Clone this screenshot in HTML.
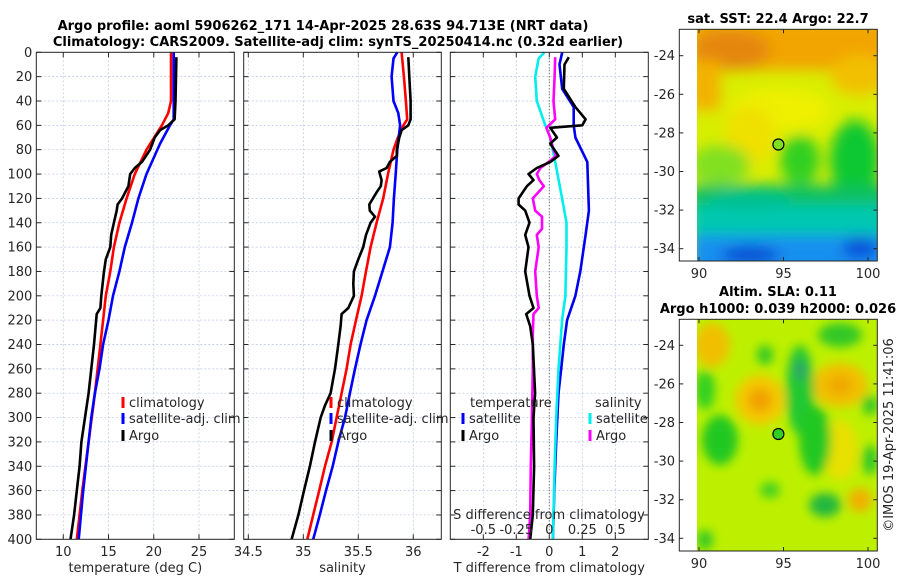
<!DOCTYPE html>
<html><head><meta charset="utf-8">
<style>
html,body{margin:0;padding:0;background:#fff;}
svg{display:block;font-family:"DejaVu Sans","Liberation Sans",sans-serif;}
.t{font-size:13px;fill:#262626;}
.b{font-weight:bold;font-size:13px;fill:#000;}
</style></head>
<body>
<svg id="c" width="900" height="580" viewBox="0 0 900 580">
<defs>
 <filter id="bl" x="-20%" y="-20%" width="140%" height="140%"><feGaussianBlur stdDeviation="7"/></filter>
 <filter id="bl2" x="-20%" y="-20%" width="140%" height="140%"><feGaussianBlur stdDeviation="5"/></filter>
 <clipPath id="m1"><rect x="697" y="29.3" width="180" height="231.7"/></clipPath>
 <clipPath id="m2"><rect x="697" y="319.3" width="180" height="231.7"/></clipPath>
</defs>
<text class="b" x="323" y="30" text-anchor="middle">Argo profile: aoml 5906262_171 14-Apr-2025 28.63S 94.713E (NRT data)</text>
<text class="b" x="338" y="46" text-anchor="middle">Climatology: CARS2009. Satellite-adj clim: synTS_20250414.nc (0.32d earlier)</text>

<!-- map 1 -->
<g>
 <g clip-path="url(#m1)">
  <rect x="697" y="29" width="180" height="232" fill="#d8ee00"/>
  <g filter="url(#bl)">
   <rect x="690" y="20" width="200" height="50" fill="#f2a400"/>
   <ellipse cx="730" cy="50" rx="40" ry="20" fill="#e5860c"/>
   <rect x="690" y="60" width="30" height="50" fill="#f3b000"/>
   <ellipse cx="860" cy="75" rx="30" ry="20" fill="#f2c000"/>
   <ellipse cx="780" cy="110" rx="50" ry="22" fill="#eef000"/>
   <ellipse cx="750" cy="135" rx="25" ry="30" fill="#f0e000"/>
   <ellipse cx="720" cy="165" rx="30" ry="20" fill="#80e020"/>
   <ellipse cx="855" cy="160" rx="25" ry="40" fill="#10c830"/>
   <ellipse cx="800" cy="160" rx="20" ry="25" fill="#30d020"/>
   <rect x="690" y="185" width="200" height="40" fill="#10c060"/>
   <rect x="690" y="205" width="200" height="35" fill="#00c8b0"/>
   <ellipse cx="750" cy="200" rx="40" ry="10" fill="#00c090"/>
   <rect x="690" y="235" width="200" height="40" fill="#1890f0"/>
   <ellipse cx="750" cy="255" rx="30" ry="8" fill="#0a40d0"/>
   <ellipse cx="860" cy="248" rx="18" ry="10" fill="#0848d8"/>
  </g>
 </g>
 <rect x="679.3" y="29.3" width="198" height="231.7" fill="none" stroke="#262626" stroke-width="1"/>
 <circle cx="778.4" cy="144.5" r="5.5" fill="#7ee020" stroke="#000" stroke-width="1.2"/>
 <text class="b" x="778" y="23" text-anchor="middle">sat. SST: 22.4 Argo: 22.7</text>
</g>
<!-- map 2 -->
<g>
 <g clip-path="url(#m2)">
  <rect x="697" y="319" width="180" height="232" fill="#bdf000"/>
  <g filter="url(#bl2)">
   <ellipse cx="712" cy="345" rx="18" ry="22" fill="#f0c000"/>
   <ellipse cx="760" cy="400" rx="25" ry="25" fill="#f4c800"/>
   <ellipse cx="760" cy="400" rx="12" ry="12" fill="#f0a000"/>
   <ellipse cx="840" cy="385" rx="28" ry="22" fill="#f2c000"/>
   <ellipse cx="840" cy="385" rx="12" ry="10" fill="#f0a800"/>
   <ellipse cx="840" cy="450" rx="18" ry="30" fill="#e8e000"/>
   <ellipse cx="860" cy="500" rx="12" ry="12" fill="#f0b000"/>
   <ellipse cx="720" cy="440" rx="18" ry="25" fill="#20c820"/>
   <ellipse cx="705" cy="390" rx="10" ry="20" fill="#30d020"/>
   <ellipse cx="800" cy="390" rx="14" ry="45" fill="#20c830"/>
   <ellipse cx="800" cy="370" rx="6" ry="10" fill="#30a070"/>
   <ellipse cx="815" cy="440" rx="16" ry="35" fill="#20c820"/>
   <ellipse cx="840" cy="335" rx="22" ry="12" fill="#30c828"/>
   <ellipse cx="765" cy="355" rx="8" ry="10" fill="#30c828"/>
   <ellipse cx="825" cy="505" rx="16" ry="12" fill="#20b840"/>
   <ellipse cx="770" cy="490" rx="10" ry="8" fill="#40d020"/>
   <ellipse cx="870" cy="460" rx="8" ry="15" fill="#30c828"/>
   <ellipse cx="870" cy="405" rx="8" ry="10" fill="#30c828"/>
   <ellipse cx="705" cy="540" rx="8" ry="10" fill="#30c828"/>
  </g>
 </g>
 <rect x="679.3" y="319.3" width="198" height="231.7" fill="none" stroke="#262626" stroke-width="1"/>
 <circle cx="778.4" cy="434" r="5.5" fill="#30d020" stroke="#000" stroke-width="1.2"/>
 <text class="b" x="778" y="296" text-anchor="middle">Altim. SLA: 0.11</text>
 <text class="b" x="778" y="313" text-anchor="middle">Argo h1000: 0.039 h2000: 0.026</text>
 <text class="t" transform="translate(893,435) rotate(-90)" text-anchor="middle">©IMOS 19-Apr-2025 11:41:06</text>
</g>
</svg>
<script>
// ---- data ----
const depthTicks=[0,20,40,60,80,100,120,140,160,180,200,220,240,260,280,300,320,340,360,380,400];
const tempTicks=[10,15,20,25];
const salTicks=[34.5,35,35.5,36];
const salTickLabels=['34.5','35','35.5','36'];
const tdiffTicks=[-2,-1,0,1,2];
const sdiffTicks=[-0.5,-0.25,0,0.25,0.5];
const lonTicks=[90,95,100];
const latTicks=[-24,-26,-28,-30,-32,-34];

const climTempDepth=[0,40,50,60,80,100,120,140,160,180,200,240,280,320,360,400];
const climTemp=[21.9,21.9,21.6,20.9,19.2,17.9,17.0,16.2,15.6,15.2,14.7,14.1,13.5,12.8,12.1,11.5];
const satTempDepth=[0,40,55,60,75,100,120,140,160,180,200,220,240,260,280,300,340,360,400];
const satTemp=[22.2,22.2,22.2,21.8,20.7,19.2,18.3,17.6,16.8,16.2,15.5,15.0,14.4,14.0,13.5,13.1,12.5,12.2,11.7];
const argoTempDepth=[4,40,55,60,64,70,80,90,95,100,110,120,125,130,140,150,160,170,180,200,210,215,240,260,280,300,320,340,360,380,400];
const argoTemp=[22.5,22.4,22.3,21.6,20.7,20.1,19.6,18.7,17.9,17.4,17.2,16.5,16.0,15.9,15.6,15.3,15.2,14.7,14.5,14.2,14.1,13.7,13.4,13.1,12.8,12.4,12.0,11.8,11.5,11.2,10.8];

const climSalDepth=[0,20,40,55,60,70,80,100,120,140,160,180,200,220,240,260,280,300,320,340,360,380,400];
const climSal=[35.894,35.915,35.933,35.945,35.91,35.86,35.82,35.77,35.727,35.667,35.612,35.57,35.53,35.479,35.43,35.394,35.348,35.303,35.258,35.197,35.145,35.09,35.036];
const satSalDepth=[0,5,20,40,50,60,80,100,120,140,160,180,200,220,240,260,280,300,320,340,360,380,400];
const satSal=[35.855,35.82,35.803,35.82,35.864,35.88,35.855,35.84,35.824,35.812,35.788,35.72,35.652,35.576,35.52,35.47,35.424,35.379,35.318,35.267,35.206,35.15,35.09];
const argoSalDepth=[4,20,40,55,60,64,70,80,85,90,95,98,105,110,115,125,130,135,140,150,160,170,180,190,200,210,215,225,240,260,280,290,300,320,340,360,380,400];
const argoSal=[35.955,35.964,35.976,35.976,35.955,35.894,35.873,35.85,35.85,35.788,35.758,35.69,35.712,35.705,35.667,35.6,35.605,35.652,35.612,35.57,35.545,35.5,35.46,35.455,35.46,35.409,35.348,35.339,35.318,35.288,35.248,35.197,35.158,35.106,35.06,35.006,34.955,34.894];

const satTdiffDepth=[0,10,30,45,60,70,90,130,150,180,200,220,240,260,280,320,360,400];
const satTdiff=[0.39,0.31,0.39,0.74,0.74,0.79,1.15,1.2,1.1,0.94,0.79,0.54,0.44,0.36,0.28,0.21,0.15,0.11];
const argoTdiffDepth=[4,10,30,45,55,60,62,70,75,85,90,95,100,105,110,120,125,130,140,150,160,180,200,210,215,225,240,280,300,340,380,400];
const argoTdiff=[0.59,0.46,0.44,0.79,1.1,1.0,0.03,0.23,0.03,0.28,0.03,-0.38,-0.63,-0.48,-0.68,-0.93,-0.93,-0.73,-0.6,-0.73,-0.63,-0.73,-0.6,-0.48,-0.7,-0.58,-0.5,-0.43,-0.48,-0.46,-0.5,-0.58];
const satSdiffDepth=[0,5,20,40,60,70,90,120,140,160,200,220,260,300,340,400];
const satSdiff=[-0.037,-0.08,-0.107,-0.095,-0.03,0.007,0.045,0.097,0.13,0.13,0.122,0.097,0.07,0.052,0.04,0.027];
const argoSdiffDepth=[4,20,40,55,62,70,80,85,90,95,100,105,110,120,130,135,145,150,160,180,200,210,215,230,260,300,340,380,400];
const argoSdiff=[0.045,0.04,0.032,0.045,-0.022,0.007,0.032,0.052,-0.005,-0.067,-0.095,-0.075,-0.042,-0.125,-0.107,-0.055,-0.055,-0.095,-0.08,-0.107,-0.095,-0.08,-0.12,-0.125,-0.125,-0.132,-0.14,-0.145,-0.157];

// ---- drawing ----
const NS='http://www.w3.org/2000/svg';
const svg=document.getElementById('c');
function mk(tag,attrs,parent){const e=document.createElementNS(NS,tag);for(const k in attrs)e.setAttribute(k,attrs[k]);(parent||svg).appendChild(e);return e;}
const Y0=52.3,Y1=539.3;
const yScale=d=>Y0+(d/400)*(Y1-Y0);
function lin(d0,d1,r0,r1){return v=>r0+(v-d0)/(d1-d0)*(r1-r0);}

function panel(name,x0,x1,xs,xt,xlabels,xtitle,showY){
  const g=mk('g',{});
  
  
  depthTicks.forEach(d=>{const y=yScale(d);
    mk('line',{x1:x0,x2:x1,y1:y,y2:y,stroke:'#b8c4e0','stroke-width':0.7,'stroke-dasharray':'2,2'},g);
    mk('line',{x1:x0,x2:x0+5,y1:y,y2:y,stroke:'#262626'},g);
    mk('line',{x1:x1-5,x2:x1,y1:y,y2:y,stroke:'#262626'},g);
    if(showY){const t=mk('text',{x:x0-4,y:y+4.5,'text-anchor':'end',class:'t'},g);t.textContent=d;
      
      }
  });
  xt.forEach((v,i)=>{const x=xs(v);
    mk('line',{x1:x,x2:x,y1:Y0,y2:Y1,stroke:'#b8c4e0','stroke-width':0.7,'stroke-dasharray':'2,2'},g);
    mk('line',{x1:x,x2:x,y1:Y1-5,y2:Y1,stroke:'#262626'},g);
    mk('line',{x1:x,x2:x,y1:Y0,y2:Y0+5,stroke:'#262626'},g);
    const t=mk('text',{x:x,y:556,'text-anchor':'middle',class:'t'},g);t.textContent=xlabels[i];
    
    
  });
  const tt=mk('text',{x:(x0+x1)/2,y:572,'text-anchor':'middle',class:'t'},g);tt.textContent=xtitle;
  
  
  return g;
}
function line(g,depths,vals,xs,color,name){
  const pts=vals.map((v,i)=>xs(v).toFixed(1)+','+yScale(depths[i]).toFixed(1)).join(' ');
  const p=mk('polyline',{points:pts,fill:'none',stroke:color,'stroke-width':2.6,'stroke-linejoin':'round'},g);
  
  
}
function frame(g,x0,x1){mk('rect',{x:x0,y:Y0,width:x1-x0,height:Y1-Y0,fill:'none',stroke:'#262626','stroke-width':1},g);}
function leg(g,x,y,color,label){
  mk('line',{x1:x,x2:x,y1:y-10,y2:y+1,stroke:color,'stroke-width':3},g);
  const t=mk('text',{x:x+6,y:y,class:'t'},g);t.textContent=label;
  
  
}
const LY=[407,423,440];

// panel 1
const xT=lin(7.02,28.9,36.3,234.3);
const g1=panel('temperature-panel',36.3,234.3,xT,tempTicks,tempTicks.map(String),'temperature (deg C)',true);
line(g1,climTempDepth,climTemp,xT,'#ff0000','climatology-temperature-line');
line(g1,satTempDepth,satTemp,xT,'#0000ff','satellite-temperature-line');
line(g1,argoTempDepth,argoTemp,xT,'#000000','argo-temperature-line');
frame(g1,36.3,234.3);
leg(g1,123,LY[0],'#ff0000','climatology');leg(g1,123,LY[1],'#0000ff','satellite-adj. clim');leg(g1,123,LY[2],'#000000','Argo');

// panel 2
const xS=lin(34.458,36.255,243.7,441.3);
const g2=panel('salinity-panel',243.7,441.3,xS,salTicks,salTickLabels,'salinity',false);
line(g2,climSalDepth,climSal,xS,'#ff0000','climatology-salinity-line');
line(g2,satSalDepth,satSal,xS,'#0000ff','satellite-salinity-line');
line(g2,argoSalDepth,argoSal,xS,'#000000','argo-salinity-line');
frame(g2,243.7,441.3);
leg(g2,331,LY[0],'#ff0000','climatology');leg(g2,331,LY[1],'#0000ff','satellite-adj. clim');leg(g2,331,LY[2],'#000000','Argo');

// panel 3
const xD=lin(-3,3,450.3,648.3);
const xSD=lin(-0.75,0.75,450.3,648.3);
const g3=panel('difference-panel',450.3,648.3,xD,tdiffTicks,tdiffTicks.map(String),'T difference from climatology',false);
mk('line',{x1:xD(0),x2:xD(0),y1:Y0,y2:Y1,stroke:'#555','stroke-width':1,'stroke-dasharray':'1,2'},g3);
line(g3,satTdiffDepth,satTdiff,xD,'#0000ee','satellite-tdiff-line');
line(g3,satSdiffDepth,satSdiff,xSD,'#00eeee','satellite-sdiff-line');
line(g3,argoSdiffDepth,argoSdiff,xSD,'#ff00ff','argo-sdiff-line');
line(g3,argoTdiffDepth,argoTdiff,xD,'#000000','argo-tdiff-line');
frame(g3,450.3,648.3);
{const t=mk('text',{x:470,y:LY[0],class:'t'},g3);t.textContent='temperature';
 
 
 const s=mk('text',{x:595,y:LY[0],class:'t'},g3);s.textContent='salinity';
 
 }
leg(g3,463,LY[1],'#0000ee','satellite');leg(g3,463,LY[2],'#000000','Argo');
leg(g3,590,LY[1],'#00eeee','satellite');leg(g3,590,LY[2],'#ff00ff','Argo');
{const t=mk('text',{x:549,y:519,'text-anchor':'middle',class:'t'},g3);t.textContent='S difference from climatology';
 
 }
sdiffTicks.forEach(v=>{const t=mk('text',{x:xSD(v),y:534,'text-anchor':'middle',class:'t'},g3);t.textContent=String(v);
  
  });

// map axes
const lonX=lin(90,100,699,868);
function mapAxes(top,bot,lat24){
  const latY=lin(-24,-34,lat24,lat24+193);
  lonTicks.forEach(v=>{const x=lonX(v);
    mk('line',{x1:x,x2:x,y1:bot-4,y2:bot,stroke:'#262626'});
    mk('line',{x1:x,x2:x,y1:top,y2:top+4,stroke:'#262626'});
    const t=mk('text',{x:x,y:bot+17,'text-anchor':'middle',class:'t'});t.textContent=v;
    
    });
  latTicks.forEach(v=>{const y=latY(v);
    mk('line',{x1:679.3,x2:683.3,y1:y,y2:y,stroke:'#262626'});
    mk('line',{x1:873.3,x2:877.3,y1:y,y2:y,stroke:'#262626'});
    const t=mk('text',{x:675,y:y+4.5,'text-anchor':'end',class:'t'});t.textContent=v;
    
    });
}
mapAxes(29.3,261,55.7);
mapAxes(319.3,551,345.3);
</script>
</body></html>
